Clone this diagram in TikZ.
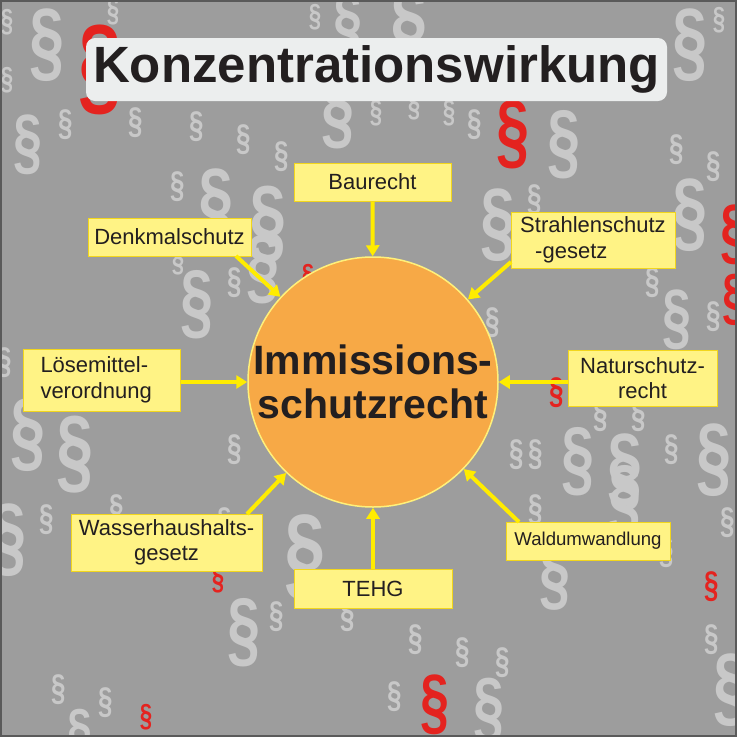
\documentclass[tikz,border=0pt]{standalone}
\usepackage{fontspec}
\setmainfont{Liberation Sans}
\usetikzlibrary{arrows.meta}
\definecolor{bg}{HTML}{9D9D9D}
\definecolor{plight}{HTML}{C8C8C8}
\definecolor{pred}{HTML}{E4231F}
\definecolor{boxfill}{HTML}{FFF385}
\definecolor{boxline}{HTML}{F2D61C}
\definecolor{arrcol}{HTML}{FFEC00}
\definecolor{circfill}{HTML}{F7A946}
\definecolor{circline}{HTML}{FFF07A}
\definecolor{titlefill}{HTML}{ECEEEE}
\definecolor{ink}{HTML}{231F20}
\definecolor{frame}{HTML}{5A5A5A}
\begin{document}
\begin{tikzpicture}[x=1pt,y=-1pt,
  sbox/.style={draw=boxline, line width=1pt, fill=boxfill, text=ink, inner sep=0pt, align=center, font=\fontsize{22}{25.5}\selectfont},
  arr/.style={draw=arrcol, line width=4pt, -{Triangle[length=11pt,width=13pt]}},
  para/.style={inner sep=0pt, font=\bfseries},
]
\useasboundingbox (0,0) rectangle (737,737);
\fill[bg] (0,0) rectangle (737,737);
\begin{scope}
\clip (0,0) rectangle (737,737);
\foreach \x/\y/\h/\c [count=\i] in {
 7/22/30/plight, 47/45/85/plight, 100/70/105/pred, 113/12/30/plight, 7/80/30/plight,
 28/145/70/plight, 66/125/35/plight, 136/123/35/plight, 197/127/35/plight, 244/140/35/plight,
 282/157/35/plight, 178/187/35/plight, 216/205/85/plight, 268/225/90/plight, 315/17/30/plight,
 348/25/70/plight, 409/30/90/plight, 338/115/80/plight, 376/113/30/plight, 414/107/30/plight,
 449/113/30/plight, 475/125/35/plight, 513/135/80/pred, 564/145/80/plight, 498/225/85/plight,
 535/200/35/plight, 677/150/35/plight, 690/45/85/plight, 719/20/30/plight, 714/167/35/plight,
 690/215/85/plight, 735/235/70/pred,
 5/363/35/plight, 197/305/80/plight, 178/262/30/plight, 235/283/35/plight, 263/270/80/plight,
 308/277/30/pred, 28/435/85/plight, 75/455/90/plight, 235/450/35/plight, 493/323/35/plight,
 653/283/35/plight, 677/320/70/plight, 714/317/35/plight, 735/300/60/pred, 557/393/35/pred,
 601/417/35/plight, 639/417/35/plight, 517/455/35/plight, 536/455/35/plight, 578/462/80/plight,
 625/470/85/plight, 672/450/35/plight, 714/460/85/plight,
 9/540/85/plight, 47/520/35/plight, 117/510/35/plight, 218/580/30/pred, 225/523/35/plight,
 244/633/80/plight, 277/617/35/plight, 305/557/100/plight, 348/617/35/plight, 416/640/35/plight,
 463/653/35/plight, 503/663/35/plight, 435/705/70/pred, 489/710/75/plight, 395/697/35/plight,
 59/690/35/plight, 106/703/35/plight, 146/717/30/pred, 80/735/60/plight, 536/510/35/plight,
 555/578/75/plight, 625/500/80/plight, 667/553/35/plight, 712/587/35/pred, 712/640/35/plight,
 731/690/85/plight, 728/523/35/plight} {
  \pgfmathsetmacro\fs{1.06*\h}
  \node[para, text=\c] (ps\i) at (\x,\y) {\scalebox{0.7}[1]{\fontsize{\fs}{\fs}\selectfont §}};
}
\end{scope}

\node[fill=titlefill, rounded corners=9pt, minimum width=581pt, minimum height=63pt, inner sep=0pt, text=ink, font=\fontsize{51}{51}\selectfont\bfseries] (title) at (376.5,69.5) {Konzentrationswirkung};

\node[circle, fill=circfill, draw=circline, line width=1.5pt, minimum size=250pt, inner sep=0pt, align=center, text=ink, font=\fontsize{41}{44}\selectfont\bfseries] (c) at (373,382) {Immissions-\\schutzrecht};

\node[sbox, minimum width=157pt, minimum height=38pt] (bau) at (372.5,182) {Baurecht};
\node[sbox, minimum width=163pt, minimum height=38pt] (dk) at (169.5,237) {Denkmalschutz};
\node[sbox, align=left, minimum width=164pt, minimum height=56pt] (st) at (593,240) {Strahlenschutz\\\hspace*{15pt}-gesetz};
\node[sbox, align=left, anchor=west, inner xsep=17pt, text width=123pt, minimum height=62pt] (lm) at (23,380) {Lösemittel-\\verordnung};
\node[sbox, minimum width=149pt, minimum height=56pt] (nat) at (642.5,378) {Naturschutz-\\recht};
\node[sbox, minimum width=191pt, minimum height=57pt] (wh) at (166.5,542.5) {Wasserhaushalts-\\gesetz};
\node[sbox, minimum width=164pt, minimum height=38pt, font=\fontsize{18.6}{21}\selectfont] (wald) at (588,541) {Waldumwandlung};
\node[sbox, minimum width=158pt, minimum height=39pt] (tehg) at (373,588.5) {TEHG};

\coordinate (dks) at (236,256);
\coordinate (sts) at (511,262);
\coordinate (whs) at (247,514);
\coordinate (wds) at (519,522);
\draw[arr] (bau) -- (c);
\draw[arr] (dks) -- (c);
\draw[arr] (sts) -- (c);
\draw[arr] (lm.east |- c.center) -- (c);
\draw[arr] (nat.west |- c.center) -- (c);
\draw[arr] (whs) -- (c);
\draw[arr] (wds) -- (c);
\draw[arr] (tehg) -- (c);

\draw[frame, line width=2pt] (1,1) rectangle (736,736);
\end{tikzpicture}
\end{document}
